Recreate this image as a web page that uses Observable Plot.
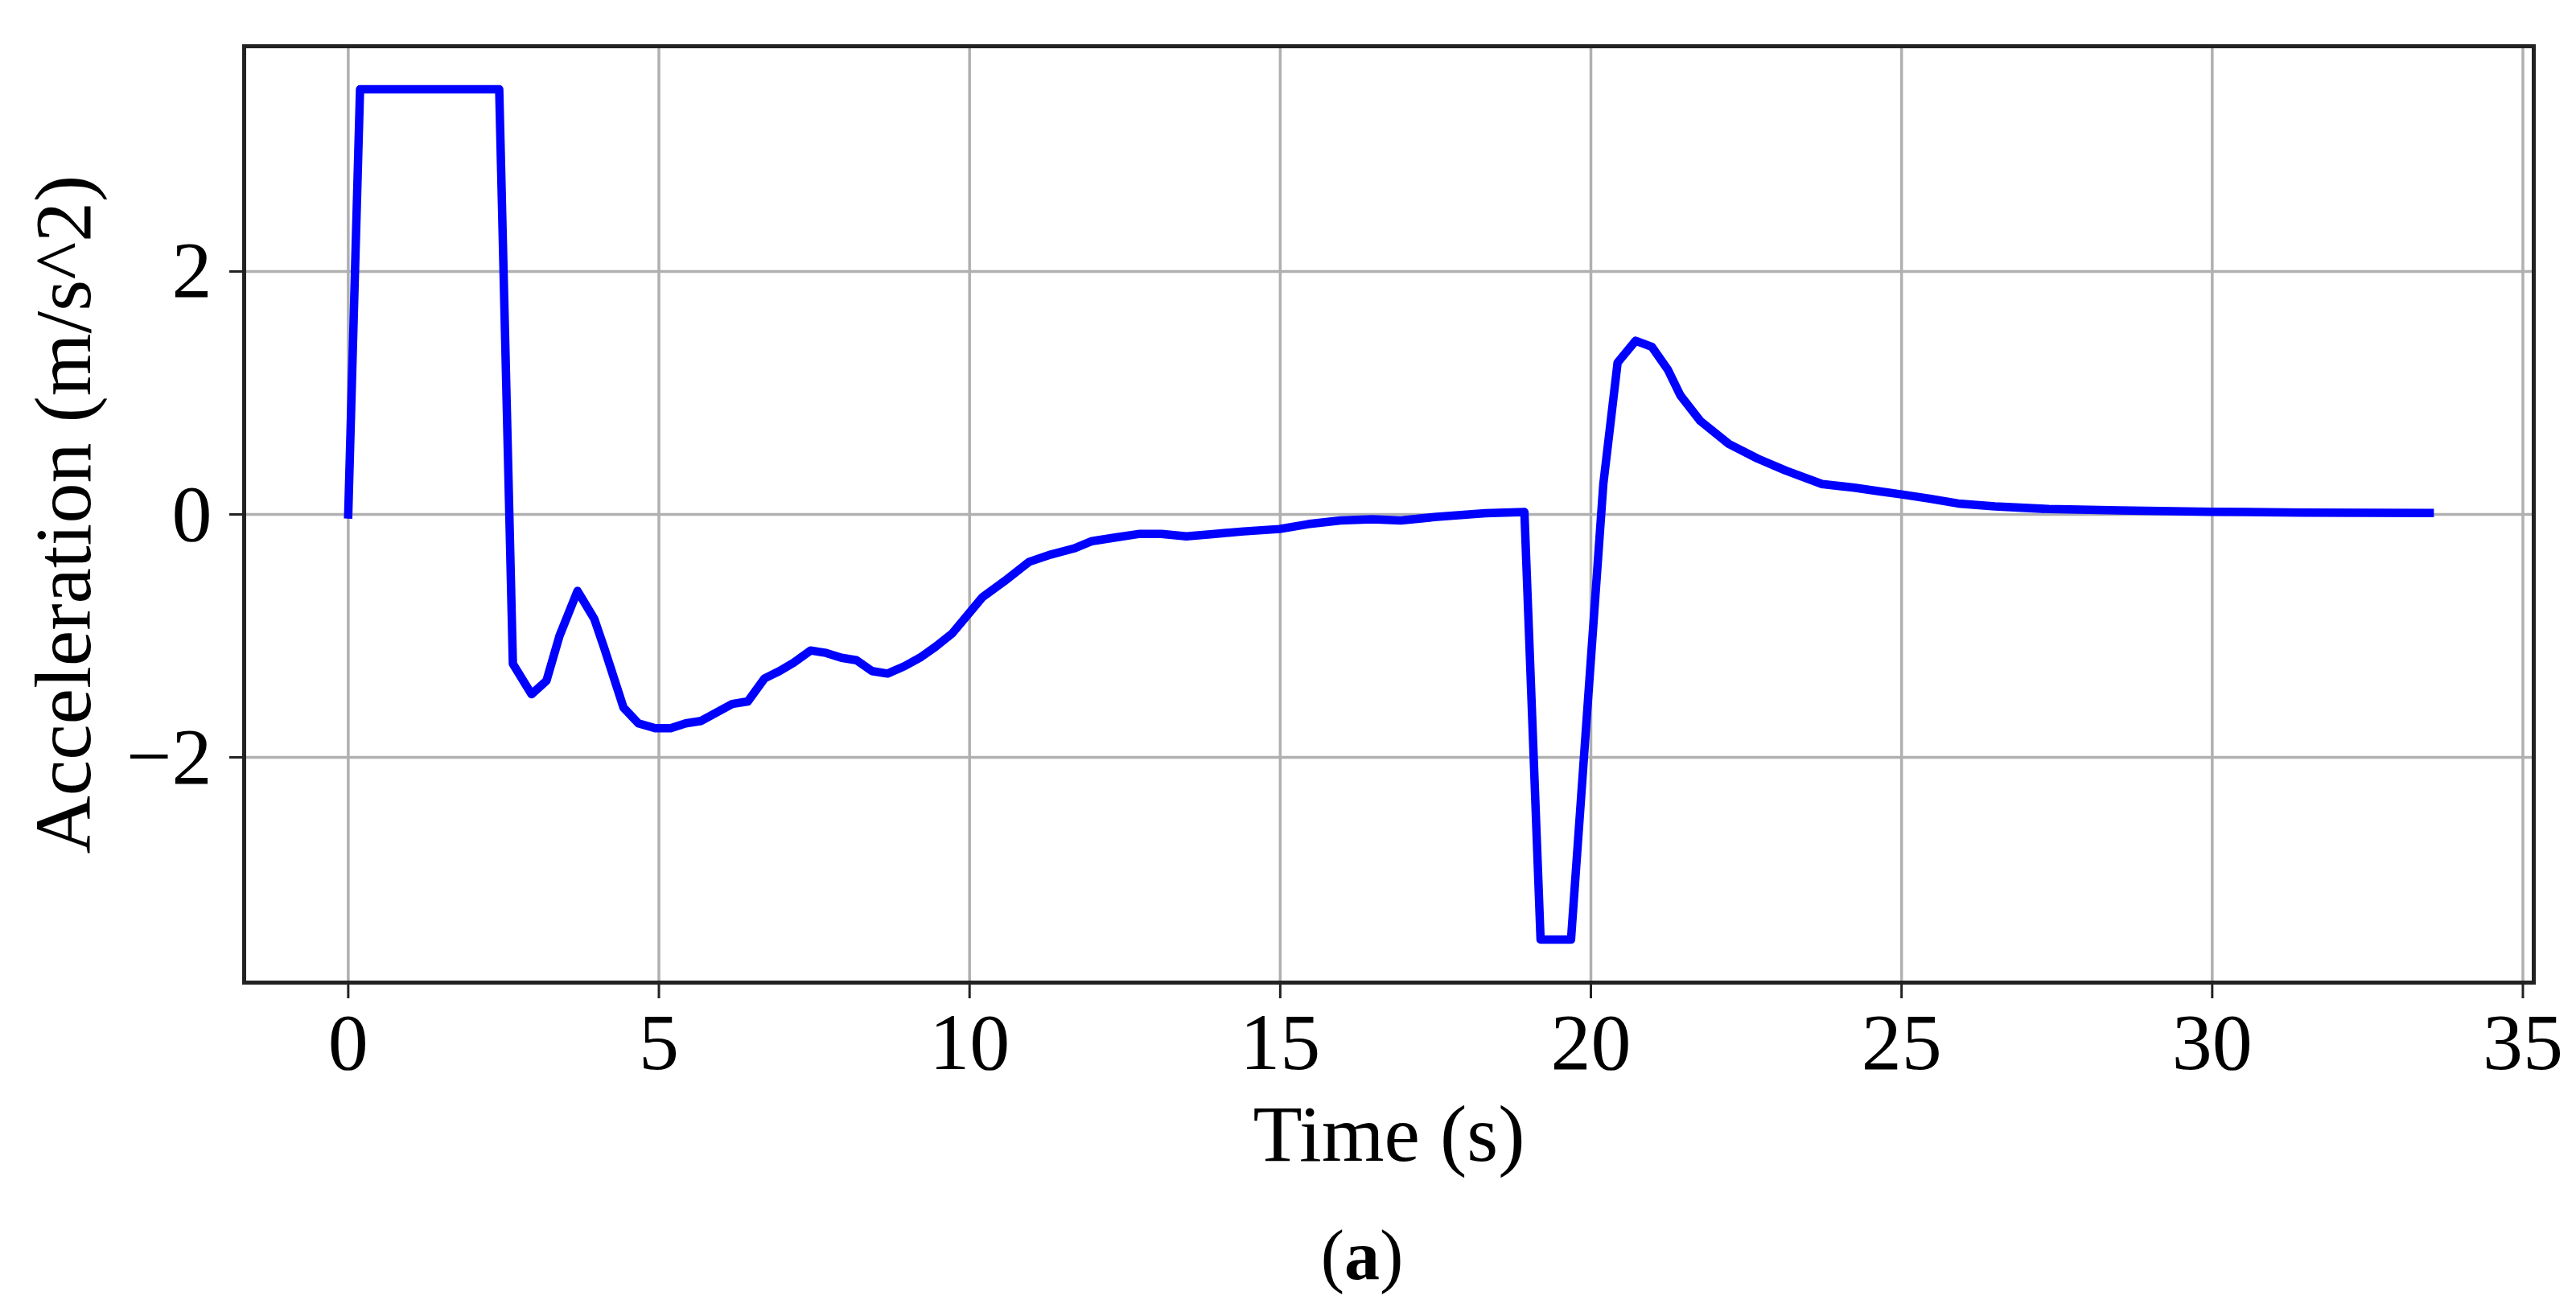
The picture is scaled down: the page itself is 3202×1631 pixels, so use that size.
<!DOCTYPE html>
<html>
<head>
<meta charset="utf-8">
<script src="https://cdn.jsdelivr.net/npm/d3@7"></script>
<script src="https://cdn.jsdelivr.net/npm/@observablehq/plot@0.6"></script>
<style>
  html, body { margin: 0; padding: 0; background: #fff; }
  #wrap { position: relative; width: 3202px; height: 1631px; }
  #caption { position: absolute; left: 1693px; top: 1517px; transform: translateX(-50%);
    font-family: "Liberation Serif", "Times New Roman", serif; font-size: 88px; line-height: 1; color: #000; }
</style>
</head>
<body>
<div id="wrap">
  <div id="chart"></div>
  <div id="caption">(<b>a</b>)</div>
</div>
<script>
const time = [0, 0.19, 2.43, 2.65, 2.95, 3.19, 3.40, 3.69, 3.96, 4.12, 4.43, 4.67, 4.94, 5.19, 5.43, 5.68, 5.93, 6.18, 6.43, 6.70, 6.94, 7.17, 7.44, 7.69, 7.94, 8.18, 8.43, 8.68, 8.95, 9.20, 9.45, 9.72, 10.21, 10.56, 10.96, 11.31, 11.68, 11.97, 12.34, 12.74, 13.09, 13.49, 13.95, 14.41, 14.99, 15.45, 15.97, 16.48, 16.94, 17.52, 18.30, 18.93, 19.19, 19.68, 20.20, 20.43, 20.72, 20.98, 21.24, 21.44, 21.76, 22.22, 22.68, 23.14, 23.72, 24.24, 24.64, 25.00, 25.45, 25.91, 26.50, 27.37, 28.50, 30.00, 31.45, 33.50];
const accel = [0, 3.5, 3.5, -1.23, -1.48, -1.37, -1.00, -0.63, -0.86, -1.10, -1.59, -1.72, -1.76, -1.76, -1.72, -1.70, -1.63, -1.56, -1.54, -1.35, -1.29, -1.22, -1.12, -1.14, -1.18, -1.20, -1.29, -1.31, -1.25, -1.18, -1.09, -0.98, -0.68, -0.55, -0.39, -0.33, -0.28, -0.22, -0.19, -0.16, -0.16, -0.18, -0.16, -0.14, -0.12, -0.08, -0.05, -0.04, -0.05, -0.02, 0.01, 0.02, -3.5, -3.5, 0.25, 1.25, 1.43, 1.38, 1.19, 0.98, 0.77, 0.58, 0.46, 0.36, 0.25, 0.22, 0.19, 0.165, 0.13, 0.09, 0.066, 0.044, 0.033, 0.022, 0.015, 0.011];
const xTicks = [0, 5, 10, 15, 20, 25, 30, 35];
const yTicks = [-2, 0, 2];
const xLabel = "Time (s)";
const yLabel = "Acceleration (m/s^2)";

const rows = time.map((t, i) => ({t, a: accel[i]}));
const fmt = d => d < 0 ? "\u2212" + (-d) : String(d);
const FONT = '"Liberation Serif", "Times New Roman", serif';

const chart = Plot.plot({
  width: 3202,
  height: 1480,
  marginLeft: 303,
  marginRight: 53,
  marginTop: 57,
  marginBottom: 259,
  style: {fontFamily: FONT, background: "#fff", color: "#000"},
  x: {domain: [-1.675, 35.175]},
  y: {domain: [-3.854, 3.854]},
  marks: [
    Plot.gridX(xTicks, {stroke: "#b0b0b0", strokeOpacity: 1, strokeWidth: 3.5}),
    Plot.gridY(yTicks, {stroke: "#b0b0b0", strokeOpacity: 1, strokeWidth: 3.5}),
    Plot.line(rows, {x: "t", y: "a", stroke: "#0000ff", strokeWidth: 10.5, strokeLinejoin: "round", strokeLinecap: "square"}),
    Plot.frame({stroke: "#222", strokeWidth: 5}),
    Plot.axisX(xTicks, {tickSize: 20, tickPadding: 16, fontSize: 100, tickFormat: fmt, label: null, stroke: "#222", strokeWidth: 3, fill: "#000"}),
    Plot.axisY(yTicks, {tickSize: 18, tickPadding: 22, fontSize: 100, tickFormat: fmt, label: null, stroke: "#222", strokeWidth: 3, fill: "#000"}),
    Plot.text([xLabel], {frameAnchor: "bottom", dy: 189, text: d => d, fontSize: 100, textAnchor: "middle", lineAnchor: "middle", fill: "#000"}),
    Plot.text([yLabel], {frameAnchor: "left", dx: -224, rotate: -90, text: d => d, fontSize: 100, textAnchor: "middle", lineAnchor: "middle", fill: "#000"})
  ]
});
document.getElementById("chart").appendChild(chart);
</script>
</body>
</html>
